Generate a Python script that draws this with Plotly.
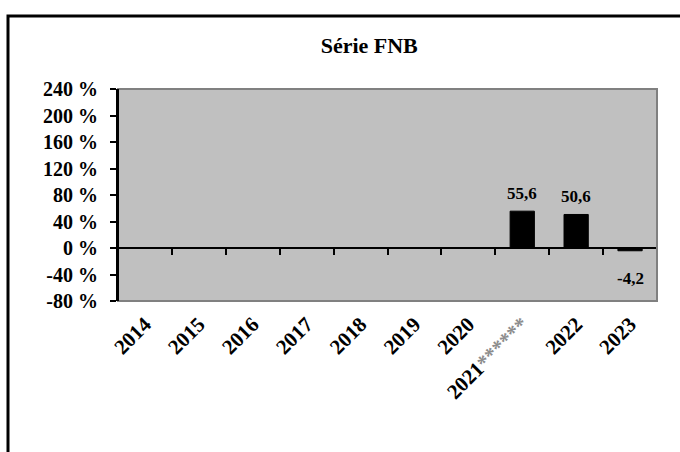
import plotly.graph_objects as go

categories = ["2014", "2015", "2016", "2017", "2018", "2019", "2020", "2021", "2022", "2023"]
tick_labels = ["2014", "2015", "2016", "2017", "2018", "2019", "2020",
               "2021<span style='color:#8c8c8c'>******</span>", "2022", "2023"]
values = [None, None, None, None, None, None, None, 55.6, 50.6, -4.2]
y_tickvals = [-80, -40, 0, 40, 80, 120, 160, 200, 240]
y_ticktext = ["-80 %", "-40 %", "0 %", "40 %", "80 %", "120 %", "160 %", "200 %", "240 %"]

FONT = "Liberation Serif"

fig = go.Figure()
fig.add_trace(go.Bar(
    x=categories, y=values, width=0.45,
    marker=dict(color="black", line=dict(color="black", width=1)),
    hoverinfo="skip", showlegend=False,
))
# invisible helper trace for the zero-line tick axis
fig.add_trace(go.Scatter(x=categories, y=[None] * len(categories), xaxis="x2",
                         mode="markers", hoverinfo="skip", showlegend=False))

for i, v in enumerate(values):
    if v is None:
        continue
    txt = f"{v:.1f}".replace(".", ",")
    fig.add_annotation(
        x=i, y=v, xref="x", yref="y", text=txt, showarrow=False,
        yanchor="bottom" if v >= 0 else "top",
        yshift=6 if v >= 0 else -16,
        font=dict(family=FONT, size=17, color="black", weight="bold"),
    )

fig.update_layout(
    width=680, height=452,
    margin=dict(l=118, r=23, t=89, b=151, autoexpand=False),
    paper_bgcolor="white", plot_bgcolor="#C0C0C0",
    title=dict(text="Série FNB", x=0.543, xref="container", xanchor="center",
               y=1 - 45 / 452, yref="container", yanchor="middle",
               font=dict(family=FONT, size=22, color="black", weight="bold")),
    xaxis=dict(type="category", categoryarray=categories, range=[-0.5, 9.5],
               tickvals=categories, ticktext=tick_labels, tickangle=-45,
               ticks="", showline=False, showgrid=False, zeroline=False,
               ticklabelstandoff=6,
               tickfont=dict(family=FONT, size=21, color="black", weight="bold"),
               fixedrange=True),
    xaxis2=dict(type="category", categoryarray=categories, range=[-0.5, 9.5],
                overlaying="x", anchor="free", position=0.25,
                ticks="outside", tickson="boundaries", ticklen=6, tickwidth=2, tickcolor="black",
                showticklabels=False, showline=True, linecolor="black", linewidth=2,
                showgrid=False, zeroline=False),
    yaxis=dict(range=[-80, 240], tickvals=y_tickvals, ticktext=y_ticktext,
               ticks="outside", ticklen=6, tickwidth=2, tickcolor="black",
               showline=True, linecolor="black", linewidth=2,
               showgrid=False, zeroline=False, ticklabelstandoff=8,
               tickfont=dict(family=FONT, size=20, color="black", weight="bold")),
    shapes=[
        dict(type="rect", xref="paper", yref="paper", x0=0, x1=1, y0=0, y1=1,
             line=dict(color="#808080", width=2), layer="above"),
        dict(type="line", xref="paper", yref="paper", x0=0, x1=0, y0=0, y1=1,
             line=dict(color="black", width=2), layer="above"),
        dict(type="rect", xref="paper", yref="paper",
             x0=(8 - 118) / 539, x1=(700 - 118) / 539,
             y0=(301 - 480) / 212, y1=(301 - 16) / 212,
             line=dict(color="black", width=3), layer="above"),
    ],
)

fig.write_html("out.html", config={"displayModeBar": False},
               post_script="document.body.style.margin='0';")
